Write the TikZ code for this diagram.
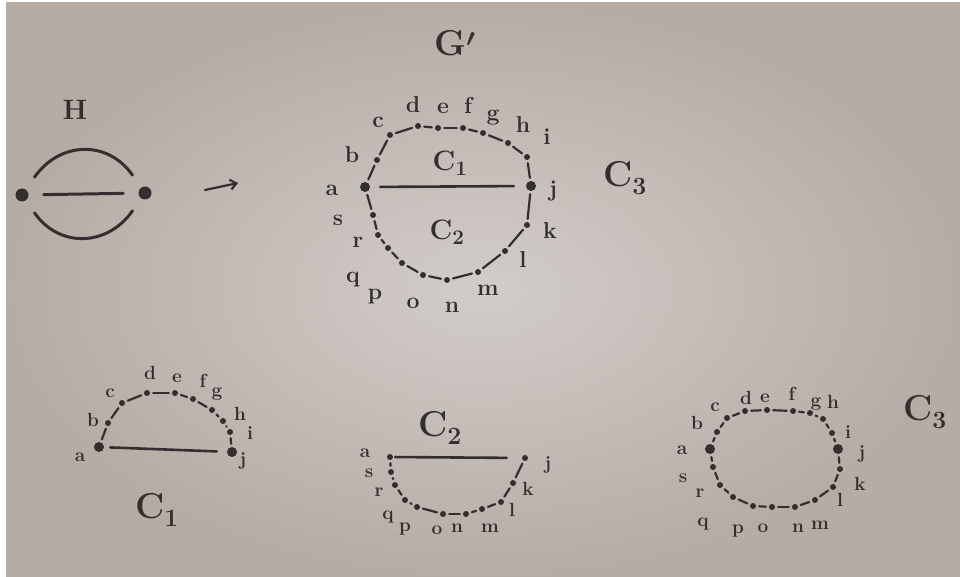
\documentclass[tikz,border=0pt]{standalone}
\usetikzlibrary{arrows.meta}
\definecolor{paper}{RGB}{210,204,200}
\definecolor{paperdark}{RGB}{182,172,166}
\definecolor{ink}{RGB}{52,47,46}
\tikzset{
  dot/.style={circle,fill=ink,inner sep=0pt,minimum size=6pt},
  bigdot/.style={circle,fill=ink,inner sep=0pt,minimum size=10pt},
  seg/.style={draw=ink,line width=2.2pt,line cap=round,shorten <=3pt,shorten >=3pt},
  chord/.style={draw=ink,line width=2.6pt,line cap=round},
  lbl/.style={text=ink,font=\fontsize{23}{25}\selectfont\bfseries,inner sep=0pt},
  slbl/.style={text=ink,font=\fontsize{19}{21}\selectfont\bfseries,inner sep=0pt},
  big/.style={text=ink,font=\fontsize{36}{38}\selectfont\bfseries\boldmath,inner sep=0pt},
  mid/.style={text=ink,font=\fontsize{28}{30}\selectfont\bfseries\boldmath,inner sep=0pt},
  hedge/.style={draw=ink,line width=3pt,line cap=round,shorten <=15pt,shorten >=15pt},
}
\begin{document}
\begin{tikzpicture}[x=1pt,y=-1pt]
\useasboundingbox (0,0) rectangle (960,577);
\fill[white] (0,0) rectangle (960,577);
\shade[inner color=paper,outer color=paperdark] (6,3) rectangle (960,577);

% ---------- H ----------
\node[mid] (Hlab) at (75,110) {H};
\node[circle,fill=ink,inner sep=0pt,minimum width=9pt,minimum height=13pt] (hl) at (22,195) {};
\node[circle,fill=ink,inner sep=0pt,minimum width=9pt,minimum height=13pt] (hr) at (145,193) {};
\draw[hedge] (hl) to[out=55,in=125,looseness=1.3] (hr);
\draw[hedge] (hl) -- (hr);
\draw[hedge] (hl) to[out=-55,in=-125,looseness=1.3] (hr);
\coordinate (arrS) at (205,190);
\coordinate (arrE) at (238,183);
\draw[draw=ink,line width=2.2pt,line cap=round,-{Straight Barb[length=6pt,width=10pt]}] (arrS) -- (arrE);

% ---------- G' ----------
\node[big] (Glab) at (455,43) {G$'$};
\node[bigdot] (ga) at (365,187) {};
\node[dot] (gb) at (377,160) {};
\node[dot] (gc) at (390,135) {};
\node[dot] (gd) at (418,126) {};
\node[dot] (ge) at (438,128) {};
\node[dot] (gf) at (463,128) {};
\node[dot] (gg) at (483,133) {};
\node[dot] (gh) at (508,143) {};
\node[dot] (gi) at (527,157) {};
\node[bigdot] (gj) at (531,186) {};
\node[dot] (gk) at (527,225) {};
\node[dot] (gl) at (505,251) {};
\node[dot] (gm) at (478,272) {};
\node[dot] (gn) at (447,280) {};
\node[dot] (go) at (423,275) {};
\node[dot] (gp) at (402,263) {};
\node[dot] (gq) at (388,248) {};
\node[dot] (gr) at (378,235) {};
\node[dot] (gs) at (373,215) {};
\foreach \u/\v in {ga/gb,gb/gc,gc/gd,gd/ge,ge/gf,gf/gg,gg/gh,gh/gi,gi/gj,gj/gk,gk/gl,gl/gm,gm/gn,gn/go,go/gp,gp/gq,gq/gr,gr/gs,gs/ga}
  \draw[seg] (\u) -- (\v);
\draw[chord,shorten <=10pt,shorten >=12pt] (ga) -- (gj);
\node[lbl] (gLa) at (332,190) {a};
\node[lbl] (gLb) at (352,155) {b};
\node[lbl] (gLc) at (378,122) {c};
\node[lbl] (gLd) at (413,105) {d};
\node[lbl] (gLe) at (443,108) {e};
\node[lbl] (gLf) at (468,105) {f};
\node[lbl] (gLg) at (493,118) {g};
\node[lbl] (gLh) at (523,125) {h};
\node[lbl] (gLi) at (547,137) {i};
\node[lbl] (gLj) at (553,191) {j};
\node[lbl] (gLk) at (550,231) {k};
\node[lbl] (gLl) at (523,260) {l};
\node[lbl] (gLm) at (488,290) {m};
\node[lbl] (gLn) at (452,307) {n};
\node[lbl] (gLo) at (413,303) {o};
\node[lbl] (gLp) at (375,297) {p};
\node[lbl] (gLq) at (353,280) {q};
\node[lbl] (gLr) at (358,242) {r};
\node[lbl] (gLs) at (338,220) {s};
\node[mid] (gC1) at (450,163) {C$_1$};
\node[mid] (gC2) at (447,232) {C$_2$};
\node[big] (gC3) at (625,178) {C$_3$};

% ---------- C1 ----------
\node[bigdot] (ua) at (99,447) {};
\node[dot] (ub) at (108,423) {};
\node[dot] (uc) at (122,403) {};
\node[dot] (ud) at (147,393) {};
\node[dot] (ue) at (175,393) {};
\node[dot] (uf) at (193,399) {};
\node[dot] (ug) at (212,410) {};
\node[dot] (uh) at (223,421) {};
\node[dot] (ui) at (230,432) {};
\node[bigdot] (uj) at (232,452) {};
\foreach \u/\v in {ua/ub,ub/uc,uc/ud,ud/ue,ue/uf,uf/ug,ug/uh,uh/ui,ui/uj}
  \draw[seg] (\u) -- (\v);
\draw[chord,shorten <=6pt,shorten >=10pt] (ua) -- (uj);
\node[slbl] (uLa) at (80,457) {a};
\node[slbl] (uLb) at (93,420) {b};
\node[slbl] (uLc) at (110,393) {c};
\node[slbl] (uLd) at (150,373) {d};
\node[slbl] (uLe) at (177,378) {e};
\node[slbl] (uLf) at (203,381) {f};
\node[slbl] (uLg) at (217,394) {g};
\node[slbl] (uLh) at (240,414) {h};
\node[slbl] (uLi) at (250,433) {i};
\node[slbl] (uLj) at (243,461) {j};
\node[big] (uC1) at (157,510) {C$_1$};

% ---------- C2 ----------
\node[dot] (va) at (390,457) {};
\node[dot] (vs) at (391,472) {};
\node[dot] (vr) at (395,485) {};
\node[dot] (vq) at (405,500) {};
\node[dot] (vp) at (417,507) {};
\node[dot] (vo) at (443,514) {};
\node[dot] (vn) at (466,514) {};
\node[dot] (vm) at (482,509) {};
\node[dot] (vl) at (501,502) {};
\node[dot] (vk) at (513,483) {};
\node[dot] (vj) at (525,458) {};
\foreach \u/\v in {va/vs,vs/vr,vr/vq,vq/vp,vp/vo,vo/vn,vn/vm,vm/vl,vl/vk,vk/vj}
  \draw[seg] (\u) -- (\v);
\draw[chord,shorten <=2pt,shorten >=15pt] (va) -- (vj);
\node[slbl] (vLa) at (365,453) {a};
\node[slbl] (vLs) at (369,473) {s};
\node[slbl] (vLr) at (379,492) {r};
\node[slbl] (vLq) at (388,517) {q};
\node[slbl] (vLp) at (405,529) {p};
\node[slbl] (vLo) at (437,530) {o};
\node[slbl] (vLn) at (457,528) {n};
\node[slbl] (vLm) at (490,528) {m};
\node[slbl] (vLl) at (512,510) {l};
\node[slbl] (vLk) at (528,489) {k};
\node[slbl] (vLj) at (548,465) {j};
\node[big] (vC2) at (440,428) {C$_2$};

% ---------- C3 ----------
\node[bigdot] (wa) at (710,449) {};
\node[dot] (wb) at (717,432) {};
\node[dot] (wc) at (727,418) {};
\node[dot] (wd) at (745,411) {};
\node[dot] (we) at (767,410) {};
\node[dot] (wf) at (793,411) {};
\node[dot] (wg) at (810,413) {};
\node[dot] (wh) at (823,419) {};
\node[dot] (wi) at (832,433) {};
\node[bigdot] (wj) at (838,449) {};
\node[dot] (wk) at (840,469) {};
\node[dot] (wl) at (833,487) {};
\node[dot] (wm) at (815,500) {};
\node[dot] (wn) at (795,507) {};
\node[dot] (wo) at (772,507) {};
\node[dot] (wp) at (753,506) {};
\node[dot] (wq) at (733,497) {};
\node[dot] (wr) at (720,485) {};
\node[dot] (ws) at (713,467) {};
\foreach \u/\v in {wa/wb,wb/wc,wc/wd,wd/we,we/wf,wf/wg,wg/wh,wh/wi,wi/wj,wj/wk,wk/wl,wl/wm,wm/wn,wn/wo,wo/wp,wp/wq,wq/wr,wr/ws,ws/wa}
  \draw[seg] (\u) -- (\v);
\node[slbl] (wLa) at (682,450) {a};
\node[slbl] (wLb) at (697,423) {b};
\node[slbl] (wLc) at (715,407) {c};
\node[slbl] (wLd) at (746,398) {d};
\node[slbl] (wLe) at (765,398) {e};
\node[slbl] (wLf) at (792,394) {f};
\node[slbl] (wLg) at (816,404) {g};
\node[slbl] (wLh) at (833,402) {h};
\node[slbl] (wLi) at (848,432) {i};
\node[slbl] (wLj) at (862,454) {j};
\node[slbl] (wLk) at (860,484) {k};
\node[slbl] (wLl) at (840,500) {l};
\node[slbl] (wLm) at (820,525) {m};
\node[slbl] (wLn) at (798,528) {n};
\node[slbl] (wLo) at (763,528) {o};
\node[slbl] (wLp) at (738,531) {p};
\node[slbl] (wLq) at (703,524) {q};
\node[slbl] (wLr) at (700,493) {r};
\node[slbl] (wLs) at (683,478) {s};
\node[big] (wC3) at (925,412) {C$_3$};
\end{tikzpicture}
\end{document}
